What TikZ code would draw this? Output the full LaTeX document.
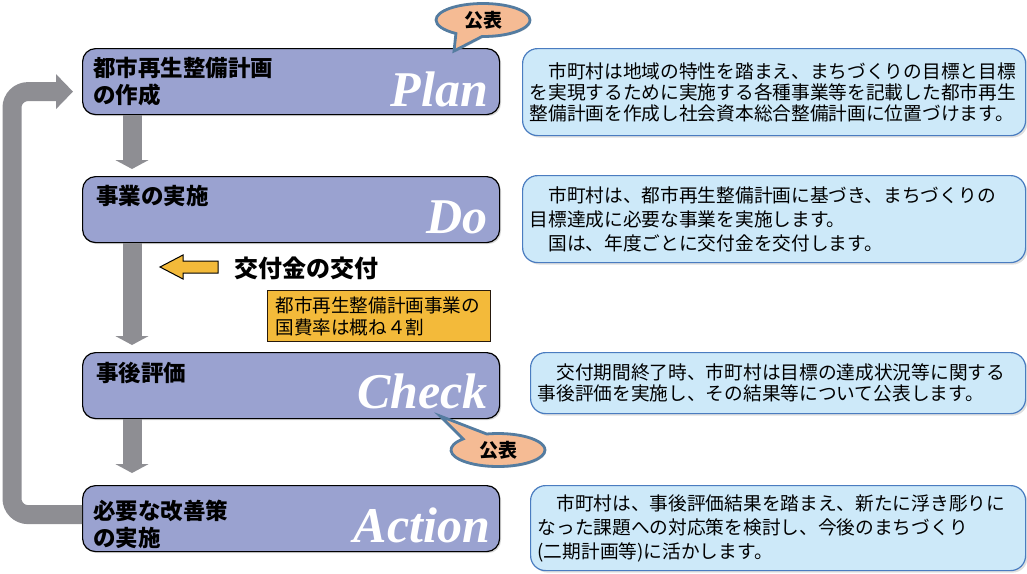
\documentclass[tikz,border=0pt]{standalone}
\usepackage{fontspec}
\usepackage{tikz}
\usetikzlibrary{positioning}
\usetikzlibrary{shapes, shapes.callouts, arrows.meta, calc, shadows}

\newfontfamily\jpfont{Noto Sans CJK JP}
\newfontfamily\pdcafont{Liberation Serif}

\definecolor{stepfill}{RGB}{154,162,208}
\definecolor{notefill}{RGB}{205,233,249}
\definecolor{notedraw}{RGB}{74,124,192}
\definecolor{grantfill}{RGB}{243,186,58}
\definecolor{pubfill}{RGB}{245,187,148}
\definecolor{pubdraw}{RGB}{84,124,160}
\definecolor{flowgray}{RGB}{142,142,147}

\tikzset{
  stepbox/.style={draw=black, line width=1.2pt, fill=stepfill, rounded corners=13pt,
    anchor=north west, minimum width=417pt, minimum height=66pt, inner sep=0pt,
    drop shadow={shadow xshift=1.5pt, shadow yshift=-1.5pt, opacity=.3}},
  steptext/.style={font=\jpfont\bfseries\fontsize{22.5}{26.5}\selectfont,
    anchor=north west, align=left, inner sep=0pt},
  stepword/.style={font=\pdcafont\bfseries\itshape\fontsize{50}{50}\selectfont,
    text=white, anchor=base east, inner sep=0pt},
  notebox/.style={draw=notedraw, line width=1.2pt, fill=notefill, rounded corners=15pt,
    anchor=north west, align=left, inner xsep=7pt, inner ysep=0pt,
    font=\jpfont\fontsize{18.7}{#1}\selectfont,
    drop shadow={shadow xshift=2pt, shadow yshift=-2pt, opacity=.25}},
  grantbox/.style={draw=black!80!brown, line width=1pt, fill=grantfill, anchor=north west,
    align=left, text width=207pt, minimum height=51pt, inner xsep=8pt, inner ysep=0pt,
    font=\jpfont\fontsize{18.6}{22}\selectfont},
  pubnote/.style={ellipse callout, draw=pubdraw, line width=2.8pt, fill=pubfill,
    minimum width=94pt, minimum height=33pt, inner sep=0pt, callout pointer arc=34,
    font=\jpfont\bfseries\fontsize{19}{19}\selectfont,
    drop shadow={shadow xshift=1pt, shadow yshift=-1.5pt, opacity=.25}},
  flow/.style={draw=flowgray, line width=19pt}
}

\begin{document}
\begin{tikzpicture}[x=1pt,y=-1pt]
    \useasboundingbox (0,0) rectangle (1027,573);

    % steps
    \node[stepbox] (plan) at (82,48) {};
    \node[stepbox] (do) at (82,176) {};
    \node[stepbox] (check) at (82,352) {};
    \node[stepbox] (action) at (82,485) {};

    % flow between the steps
    \draw[flow, -{Triangle[width=33pt,length=9pt]}, shorten >=7pt]
        ([xshift=50pt]plan.south west) -- ([xshift=50pt]do.north west);
    \draw[flow, -{Triangle[width=33pt,length=9pt]}, shorten >=7pt]
        ([xshift=50pt]do.south west) -- ([xshift=50pt]check.north west);
    \draw[flow, -{Triangle[width=33pt,length=9pt]}, shorten >=12pt]
        ([xshift=50pt]check.south west) -- ([xshift=50pt]action.north west);

    % back to the plan
    \draw[flow, rounded corners=16pt, -{Triangle[width=34pt,length=17pt]}, shorten >=9pt]
        ([yshift=4pt]action.west) -- ++(-70,0) |- ([yshift=-10pt]plan.west);

    % step titles
    \node[steptext] (plantext) at (93,57) {都市再生整備計画\\の作成};
    \node[steptext] (dotext) at (96,185) {事業の実施};
    \node[steptext] (checktext) at (96,362) {事後評価};
    \node[steptext] (actiontext) at (93,500) {必要な改善策\\の実施};

    % PDCA
    \node[stepword] (planword) at (488,106) {Plan};
    \node[stepword] (doword) at (488,233) {Do};
    \node[stepword] (checkword) at (488,408) {Check};
    \node[stepword] (actionword) at (490,542) {Action};

    % grant
    \draw[draw=black, line width=1pt, fill=grantfill] (160,267) -- (183,255) -- (183,261)
        -- (218,261) -- (218,273) -- (183,273) -- (183,279) -- cycle;
    \node[font=\jpfont\bfseries\fontsize{24}{24}\selectfont, anchor=west, inner sep=0pt]
        (granttext) at (234,268) {交付金の交付};
    \node[grantbox] (ratio) at (267,290) {都市再生整備計画事業の\\国費率は概ね４割};

    % publication
    \node[pubnote, callout absolute pointer={(454,51)}] (pubplan) at (483,20) {公表};
    \node[pubnote, callout absolute pointer={(440,416)}] (pubcheck) at (498,450) {公表};

    % notes
    \node[notebox=21, text width=489pt, minimum height=87pt] (plannote) at (522,48)
        {　市町村は地域の特性を踏まえ、まちづくりの目標と目標\\を実現するために実施する各種事業等を記載した都市再生\\整備計画を作成し社会資本総合整備計画に位置づけます。};
    \node[notebox=24, text width=489pt, minimum height=87pt] (donote) at (522,175)
        {　市町村は、都市再生整備計画に基づき、まちづくりの\\目標達成に必要な事業を実施します。\\　国は、年度ごとに交付金を交付します。};
    \node[notebox=21, text width=481pt, minimum height=61pt] (checknote) at (530,352)
        {　交付期間終了時、市町村は目標の達成状況等に関する\\事後評価を実施し、その結果等について公表します。};
    \node[notebox=24, text width=481pt, minimum height=85pt] (actionnote) at (530,485)
        {　市町村は、事後評価結果を踏まえ、新たに浮き彫りに\\なった課題への対応策を検討し、今後のまちづくり\\(二期計画等)に活かします。};
\end{tikzpicture}
\end{document}
